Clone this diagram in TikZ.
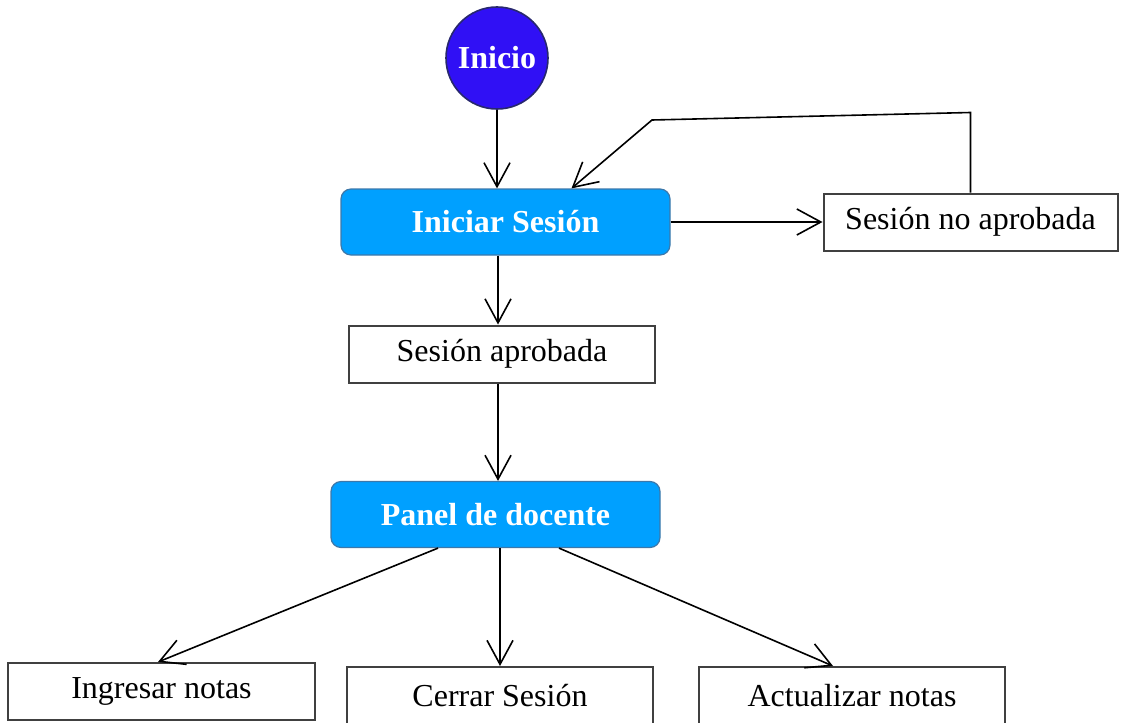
\documentclass[tikz,border=0pt]{standalone}
\usepackage{fontspec}
\setmainfont{Liberation Serif}
\usetikzlibrary{arrows.meta}

\definecolor{inicioBlue}{RGB}{48,16,245}
\definecolor{inicioEdge}{RGB}{40,40,110}
\definecolor{actBlue}{RGB}{0,160,255}
\definecolor{actEdge}{RGB}{60,120,170}

\tikzset{
    startNode/.style = {circle, draw = inicioEdge, line width = 0.8pt, fill = inicioBlue,
        text = white, font = \fontsize{16}{19}\selectfont\bfseries,
        minimum size = 51pt, inner sep = 0pt},
    actBox/.style = {rectangle, rounded corners = 5pt, draw = actEdge, line width = 0.6pt,
        fill = actBlue, text = white, font = \fontsize{16}{19}\selectfont\bfseries,
        minimum width = 164.5pt, minimum height = 33pt, inner sep = 0pt},
    stateBox/.style = {rectangle, draw = black!75, line width = 1pt,
        font = \fontsize{16}{19}\selectfont,
        minimum height = 28.5pt, inner sep = 0pt},
    flow/.style = {-{Straight Barb[length = 12pt, width = 13pt]}, line width = 0.8pt}
}

\begin{document}
\begin{tikzpicture}[x = 0.5pt, y = -0.5pt]

    \useasboundingbox (0,0) rectangle (1122,722);

    %% Nodes of the flow
    \node [startNode] (inicio) at (497,58) {Inicio};

    \node [actBox] (iniciarSesion) at (505.5,222) {Iniciar Sesión};

    \node [stateBox, minimum width = 147pt]
    (sesionNoAprobada) at (970.5,222) {Sesión no aprobada};

    \node [stateBox, minimum width = 153pt]
    (sesionAprobada) at (502,354) {Sesión aprobada};

    \node [actBox] (panelDocente) at (495.5,514.5) {Panel de docente};

    %% Options of the panel
    \node [stateBox, minimum width = 153.5pt]
    (ingresarNotas) at (161.5,691.5) {Ingresar notas};

    \node [stateBox, minimum width = 153pt]
    (cerrarSesion) at (500,695.5) {Cerrar Sesión};

    \node [stateBox, minimum width = 153pt]
    (actualizarNotas) at (852,695.5) {Actualizar notas};

    %% Drawing the arrows
    \draw [flow]
    (inicio.south) -- (inicio.south |- iniciarSesion.north)
    ;

    \draw [flow]
    (iniciarSesion.east) -- (sesionNoAprobada.west)
    ;

    %% Drawing the way back to login
    \coordinate (loopRight) at ([yshift = 40pt]sesionNoAprobada.north);
    \coordinate (loopLeft) at (652,120);

    \draw [flow]
    (sesionNoAprobada.north)
    -- (loopRight)
    -- (loopLeft)
    -- ([xshift = 33pt]iniciarSesion.north)
    ;

    %% Drawing the straight way down
    \coordinate (approvedTop) at ([xshift = -2pt]sesionAprobada.north);
    \coordinate (approvedBottom) at ([xshift = -2pt]sesionAprobada.south);

    \draw [flow]
    (iniciarSesion.south -| approvedTop) -- (approvedTop)
    ;

    \draw [flow]
    (approvedBottom) -- (approvedBottom |- panelDocente.north)
    ;

    \draw [flow]
    ([xshift = -28.75pt]panelDocente.south) -- ([xshift = -1.75pt]ingresarNotas.north)
    ;

    \draw [flow]
    (panelDocente.south -| cerrarSesion.north) -- (cerrarSesion.north)
    ;

    \draw [flow]
    ([xshift = 31.75pt]panelDocente.south) -- ([xshift = -9.5pt]actualizarNotas.north)
    ;

\end{tikzpicture}
\end{document}
